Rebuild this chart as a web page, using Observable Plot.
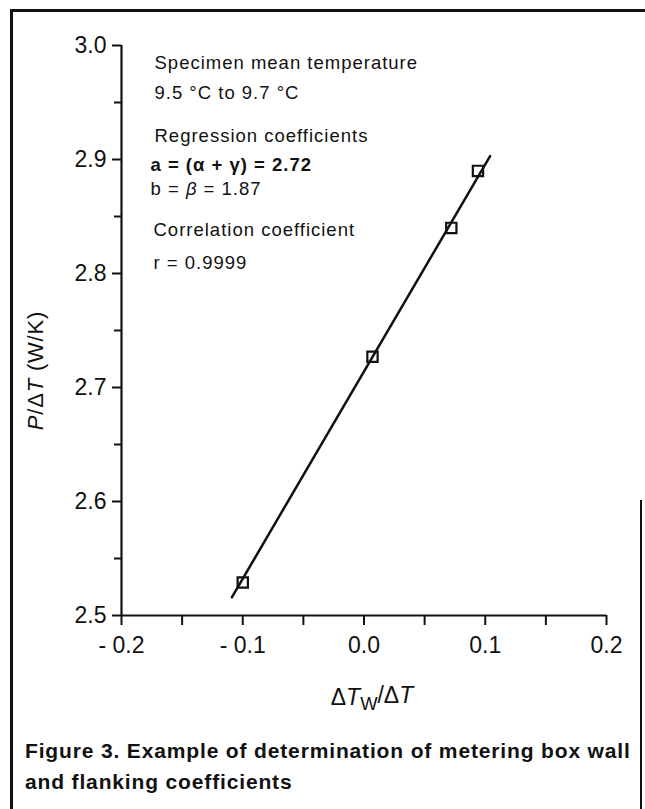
<!DOCTYPE html>
<html>
<head>
<meta charset="utf-8">
<script src="https://cdn.jsdelivr.net/npm/d3@7"></script>
<script src="https://cdn.jsdelivr.net/npm/@observablehq/plot@0.6"></script>
<style>
  html, body { margin: 0; padding: 0; background: #fff; }
  body { width: 645px; height: 809px; position: relative; overflow: hidden; }
  #chart { position: absolute; left: 0; top: 0; }
  .line { position: absolute; background: #111; }
  #caption { position: absolute; left: 25px; top: 735px; font-family: "Liberation Sans", Arial, sans-serif;
    font-weight: bold; font-size: 21px; letter-spacing: 0.85px; line-height: 31px; color: #111; white-space: nowrap; }
</style>
</head>
<body>
<div class="line" style="left:10px; top:9px; width:635px; height:2.5px;"></div>
<div class="line" style="left:10px; top:9px; width:2.5px; height:800px;"></div>
<div class="line" style="left:640px; top:500px; width:2px; height:309px;"></div>
<div id="chart"></div>
<div id="caption">Figure 3. Example of determination of metering box wall<br>and flanking coefficients</div>
<script>
// Data
const xVals = [-0.100, 0.007, 0.072, 0.094];
const yVals = [2.529, 2.727, 2.840, 2.890];
const fitX = [-0.109, 0.104];
const fitY = [2.516, 2.903];

const xTicks = [-0.2, -0.1, 0.0, 0.1, 0.2];
const xTickLabels = ["- 0.2", "- 0.1", "0.0", "0.1", "0.2"];
const xMinor = [-0.15, -0.05, 0.05, 0.15];
const yTicks = [2.5, 2.6, 2.7, 2.8, 2.9, 3.0];
const yTickLabels = ["2.5", "2.6", "2.7", "2.8", "2.9", "3.0"];
const yMinor = [2.55, 2.65, 2.75, 2.85, 2.95];

const notes = [
  "Specimen mean temperature",
  "9.5 °C to 9.7 °C",
  "Regression coefficients",
  "a = (α + γ) = 2.72",
  "b = β = 1.87",
  "Correlation coefficient",
  "r = 0.9999"
];
const noteDx = [33, 33, 33, 29, 29, 32, 32];
const noteDy = [18, 48, 91, 120, 144, 185, 218];
const noteWeight = ["normal", "normal", "normal", "bold", "normal", "normal", "normal"];

const yLabel = "P/ΔT (W/K)";
const xLabel = "ΔTW/ΔT";

const pts = xVals.map((x, i) => ({x, y: yVals[i]}));
const fit = fitX.map((x, i) => ({x, y: fitY[i]}));

const tickFont = "'Liberation Sans', Arial, sans-serif";
const textFont = "'Liberation Sans', Arial, sans-serif";

const plot = Plot.plot({
  width: 645,
  height: 720,
  marginLeft: 121,
  marginRight: 39,
  marginTop: 45,
  marginBottom: 105,
  style: {fontFamily: textFont, color: "#111", background: "transparent", overflow: "visible"},
  x: {domain: [-0.2, 0.2]},
  y: {domain: [2.5, 3.0]},
  marks: [
    Plot.axisY({ticks: yTicks, tickFormat: d => yTickLabels[yTicks.indexOf(d)], tickSize: 9, tickPadding: 6,
      strokeWidth: 2, fontSize: 23, fontFamily: tickFont, label: null}),
    Plot.axisY({ticks: yMinor, tickFormat: null, text: null, tickSize: 7, strokeWidth: 2, label: null}),
    Plot.axisX({ticks: xTicks, tickFormat: d => xTickLabels[xTicks.indexOf(d)], tickSize: 10, tickPadding: 11,
      strokeWidth: 2, fontSize: 23, fontFamily: tickFont, label: null}),
    Plot.axisX({ticks: xMinor, tickFormat: null, text: null, tickSize: 10, strokeWidth: 2, label: null}),
    Plot.ruleX([-0.2], {strokeWidth: 2.2}),
    Plot.ruleY([2.5], {strokeWidth: 2.2}),
    Plot.line(fit, {x: "x", y: "y", strokeWidth: 2.5, stroke: "#111"}),
    Plot.dot(pts, {x: "x", y: "y", symbol: "square", r: 5.8, stroke: "#111", strokeWidth: 2.2, fill: "none"}),
    ...notes.map((t, i) => Plot.text([t], {frameAnchor: "top-left", dx: noteDx[i], dy: noteDy[i],
      textAnchor: "start", lineAnchor: "middle", fontSize: 18.5, fontWeight: noteWeight[i],
      fontFamily: textFont, fill: "#111"})),
    Plot.text([yLabel], {frameAnchor: "left", textAnchor: "middle", rotate: -90, dx: -86, dy: 40, fontSize: 22,
      fontFamily: textFont, fill: "#111"}),
    Plot.text([xLabel], {frameAnchor: "bottom", textAnchor: "middle", dx: 8, dy: 82, lineAnchor: "middle", fontSize: 23,
      fontFamily: textFont, fill: "#111"})
  ]
});
document.getElementById("chart").appendChild(plot);

// Rich text: italic symbols, subscript, tracking
const svg = d3.select(plot);
svg.selectAll("text").each(function() {
  const el = d3.select(this);
  const t = this.textContent;
  if (notes.includes(t)) el.style("letter-spacing", "1px");
  if (t === yLabel) {
    el.text(null).style("letter-spacing", "0.8px");
    el.append("tspan").attr("font-style", "italic").text("P");
    el.append("tspan").text("/Δ");
    el.append("tspan").attr("font-style", "italic").text("T");
    el.append("tspan").text(" (W/K)");
  } else if (t === xLabel) {
    el.text(null);
    el.append("tspan").text("Δ");
    el.append("tspan").attr("font-style", "italic").text("T");
    el.append("tspan").attr("dy", "0.3em").attr("font-size", "0.8em").text("W");
    el.append("tspan").attr("dy", "-0.3em").text("/Δ");
    el.append("tspan").attr("font-style", "italic").text("T");
  } else if (t === "b = β = 1.87") {
    el.text(null);
    el.append("tspan").text("b = ");
    el.append("tspan").attr("font-style", "italic").text("β");
    el.append("tspan").text(" = 1.87");
  }
});
</script>
</body>
</html>
